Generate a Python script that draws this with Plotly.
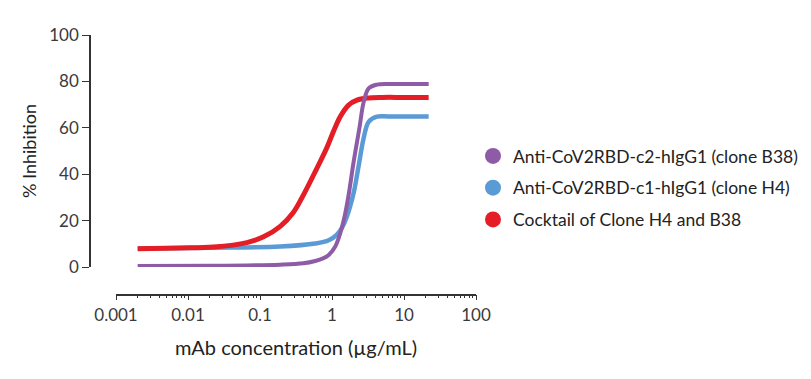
import plotly.graph_objects as go

W, H = 811, 379
OFF = 8  # page body margin

# Data (concentration in µg/mL, % inhibition)
b38_x = [0.002, 0.02, 0.19, 0.4, 0.586, 0.75, 0.9, 1.11, 1.3, 1.5, 1.7, 2.0, 2.4, 2.75, 3.23, 4.2, 6, 10, 22]
b38_y = [0.4, 0.5, 1.0, 1.6, 2.6, 3.7, 5.2, 8.8, 14.5, 22, 31, 45.4, 59.8, 71, 77, 78.6, 78.9, 78.9, 78.9]

h4_x = [0.002, 0.02, 0.19, 0.586, 0.9, 1.17, 1.38, 1.62, 2.0, 2.34, 2.75, 3.23, 4.2, 6, 10, 22]
h4_y = [8.0, 8.3, 8.8, 10.1, 11.5, 14.0, 17.0, 22.0, 32.0, 43.5, 55.5, 62.6, 64.8, 64.9, 64.9, 64.9]

mix_x = [0.002, 0.0078, 0.0226, 0.0657, 0.112, 0.191, 0.29, 0.4, 0.6, 0.85, 1.05, 1.3, 1.7, 2.22, 3.07, 5, 10, 22]
mix_y = [7.9, 8.2, 8.6, 10.5, 13.0, 17.5, 23.5, 31.0, 41.8, 51.5, 58.5, 64.8, 69.8, 71.9, 72.8, 73.1, 73.1, 73.1]

names = ["Anti-CoV2RBD-c2-hIgG1 (clone B38)",
         "Anti-CoV2RBD-c1-hIgG1 (clone H4)",
         "Cocktail of Clone H4 and B38"]
colors = ["#8e5ca6", "#5b9bd5", "#e41e26"]

x_tickvals = [0.001, 0.01, 0.1, 1, 10, 100]
x_ticktext = ["0.001", "0.01", "0.1", "1", "10", "100"]
y_tickvals = [0, 20, 40, 60, 80, 100]

FONT = "Lato, 'Open Sans', sans-serif"
TXT = "#3a3a3a"
AX = "#333333"

fig = go.Figure()
fig.add_trace(go.Scatter(x=h4_x, y=h4_y, mode="lines", line=dict(color=colors[1], width=4.5, shape="spline", smoothing=1.0), showlegend=False))
fig.add_trace(go.Scatter(x=mix_x, y=mix_y, mode="lines", line=dict(color=colors[2], width=5, shape="spline", smoothing=1.0), showlegend=False))
fig.add_trace(go.Scatter(x=b38_x, y=b38_y, mode="lines", line=dict(color=colors[0], width=4, shape="spline", smoothing=1.0), showlegend=False))

# legend entries (circle markers)
for i, (n, c) in enumerate(zip(names, colors)):
    fig.add_trace(go.Scatter(x=[None], y=[None], mode="markers", name=n,
                             marker=dict(color=c, size=20, symbol="circle"),
                             legendgroup=str(i), showlegend=True))

def px_x(p):
    return (p - OFF) / W

def px_y(p):
    return 1 - (p - OFF) / H

fig.update_layout(
    width=W, height=H,
    margin=dict(l=0, r=0, t=0, b=0, autoexpand=False),
    paper_bgcolor="white", plot_bgcolor="white",
    font=dict(family=FONT, color=TXT),
    xaxis=dict(
        type="log", range=[-3, 2],
        domain=[px_x(116), px_x(476)],
        anchor="free", position=px_y(294.5),
        automargin=False,
        showline=True, linecolor=AX, linewidth=1.5,
        showgrid=False, zeroline=False,
        tickvals=x_tickvals, ticktext=x_ticktext,
        ticks="outside", ticklen=5, tickwidth=1.3, tickcolor=AX,
        minor=dict(ticks="outside", ticklen=3, tickwidth=1, tickcolor=AX, dtick="D1", showgrid=False),
        tickfont=dict(size=17, color=TXT, family=FONT),
        title=dict(text="mAb concentration (µg/mL)", font=dict(size=20, color="#222", family=FONT), standoff=16),
    ),
    yaxis=dict(
        range=[0, 100],
        domain=[px_y(267), px_y(35)],
        anchor="free", position=px_x(90),
        automargin=False,
        showline=True, linecolor=AX, linewidth=1.5,
        showgrid=False, zeroline=False,
        tickvals=y_tickvals,
        ticks="outside", ticklen=7, tickwidth=1.3, tickcolor=AX,
        tickfont=dict(size=17, color=TXT, family=FONT),
        title=dict(text="% Inhibition", font=dict(size=18, color="#222", family=FONT), standoff=7),
    ),
    legend=dict(
        x=px_x(473), y=px_y(138), xanchor="left", yanchor="top",
        font=dict(size=17.5, color="#222", family=FONT),
        tracegroupgap=6, itemsizing="trace",
        bgcolor="rgba(0,0,0,0)",
    ),
)

fig.write_html("out.html")
